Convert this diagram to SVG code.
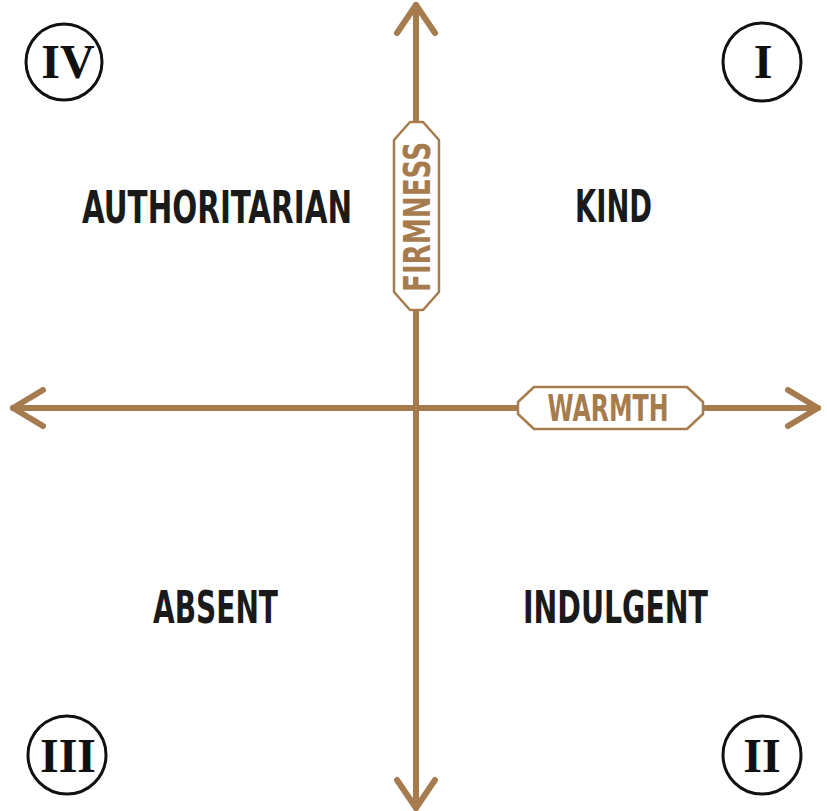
<svg xmlns="http://www.w3.org/2000/svg" width="827" height="811" viewBox="0 0 827 811">
<style>
.axis{fill:none;stroke:#a67c4e;stroke-width:6;stroke-linecap:round;stroke-linejoin:round}
.badge{fill:#fff;stroke:#a67c4e;stroke-width:2.5;stroke-linejoin:round}
.blabel{font-family:"DejaVu Sans Condensed","DejaVu Sans",sans-serif;font-stretch:condensed;font-weight:bold;font-size:37px;fill:#a67c4e;text-anchor:middle}
.quad{font-family:"DejaVu Sans Condensed","DejaVu Sans",sans-serif;font-stretch:condensed;font-weight:bold;font-size:45px;fill:#1a1a1a}
.ring{fill:#fff;stroke:#111;stroke-width:3}
.num{font-family:"Liberation Serif","Times New Roman",serif;font-weight:bold;font-size:48px;fill:#111;text-anchor:middle}
</style>
<rect width="827" height="811" fill="#fff"/>
<g id="connectors">
<line class="axis" x1="13" y1="408" x2="818" y2="408"/>
<line class="axis" x1="416" y1="5" x2="416" y2="808"/>
<polyline class="axis" points="43,390 13,408 43,426"/>
<polyline class="axis" points="788,390 818,408 788,426"/>
<polyline class="axis" points="397,33 416,5 435,33"/>
<polyline class="axis" points="397,780 416,808 435,780"/>
</g>
<g id="firmness">
<polygon class="badge" points="410,122 423,122 439,140 439,292 423,310 410,310 394,292 394,140"/>
<text class="blabel" transform="translate(430,217) rotate(-90)" x="0" y="0" textLength="150" lengthAdjust="spacingAndGlyphs">FIRMNESS</text>
</g>
<g id="warmth">
<polygon class="badge" points="518,402 534,387 687,387 703,402 703,414 687,429 534,429 518,414"/>
<text class="blabel" x="608" y="421" textLength="121" lengthAdjust="spacingAndGlyphs">WARMTH</text>
</g>
<g id="authoritarian"><text class="quad" x="82" y="223" textLength="270" lengthAdjust="spacingAndGlyphs">AUTHORITARIAN</text></g>
<g id="kind"><text class="quad" x="575" y="222" textLength="77" lengthAdjust="spacingAndGlyphs">KIND</text></g>
<g id="absent"><text class="quad" x="153" y="623" textLength="125" lengthAdjust="spacingAndGlyphs">ABSENT</text></g>
<g id="indulgent"><text class="quad" x="523" y="623" textLength="185" lengthAdjust="spacingAndGlyphs">INDULGENT</text></g>
<g id="q4"><circle class="ring" cx="64" cy="62" r="38"/><text class="num" x="68" y="78">IV</text></g>
<g id="q1"><circle class="ring" cx="762" cy="62" r="39"/><text class="num" x="763" y="78">I</text></g>
<g id="q3"><circle class="ring" cx="67" cy="755" r="39"/><text class="num" x="68" y="772">III</text></g>
<g id="q2"><circle class="ring" cx="762" cy="755" r="39"/><text class="num" x="762" y="772">II</text></g>
</svg>
